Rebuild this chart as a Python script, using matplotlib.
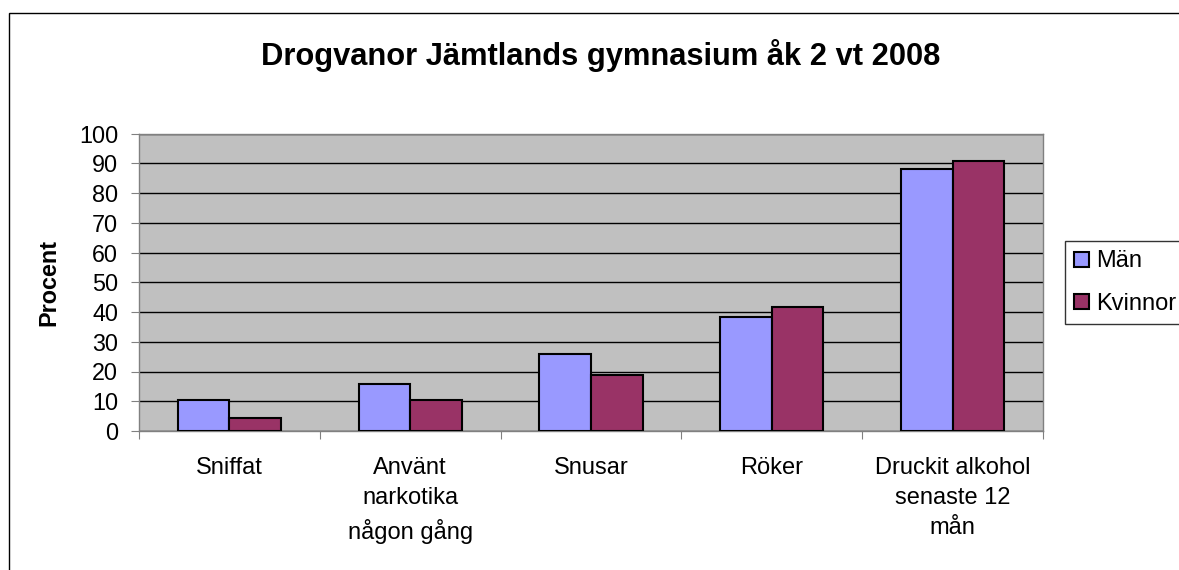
import matplotlib.pyplot as plt
import matplotlib.patches as mpatches
import numpy as np

plt.rcParams['font.family'] = ['Liberation Sans', 'DejaVu Sans']

kategorier = ["Sniffat", "Använt\nnarkotika\nnågon gång", "Snusar", "Röker",
              "Druckit alkohol\nsenaste 12\nmån"]
man = [10.3, 15.7, 25.9, 38.4, 88.2]
kvinnor = [4.4, 10.3, 18.8, 41.6, 90.8]
yticks = [0, 10, 20, 30, 40, 50, 60, 70, 80, 90, 100]

fig = plt.figure(figsize=(11.79, 5.70), dpi=100)
ax = fig.add_axes([139/1179, 1-431/570, (1043-139)/1179, (431-133.5)/570])
ax.set_facecolor("#C0C0C0")

x = np.arange(len(kategorier)) + 0.5
w = 1/3.5
ax.bar(x - w/2, man, w, color="#9999FF", edgecolor="black", lw=1.5, label="Män", zorder=3)
ax.bar(x + w/2, kvinnor, w, color="#993366", edgecolor="black", lw=1.5, label="Kvinnor", zorder=3)

ax.set_xlim(0, len(kategorier))
ax.set_ylim(0, 100)
ax.set_yticks(yticks)
ax.yaxis.grid(True, color="black", lw=1, zorder=1)
ax.set_axisbelow(True)
ax.tick_params(axis="y", labelsize=16.8, length=6, color="#808080", pad=9)

ax.set_xticks(np.arange(len(kategorier)+1))
ax.set_xticklabels([])
ax.tick_params(axis="x", which="major", length=6, color="#808080")
ax.set_xticks(x, minor=True)
ax.set_xticklabels(kategorier, minor=True, fontsize=17, linespacing=1.47)
ax.tick_params(axis="x", which="minor", length=0, pad=19)

for s in ax.spines.values():
    s.set_color("#808080")
    s.set_linewidth(1)

ax.set_ylabel("Procent", fontsize=16.8, fontweight="bold", labelpad=13)
fig.text(601/1179, 1-55/570, "Drogvanor Jämtlands gymnasium åk 2 vt 2008",
         ha="center", va="center", fontsize=22.2, fontweight="bold")

leg = fig.legend(loc="upper left", bbox_to_anchor=(1065/1179, 1-241/570),
                 bbox_transform=fig.transFigure, fontsize=17, frameon=True,
                 fancybox=False, handlelength=0.6, handleheight=0.6,
                 handletextpad=0.3, borderpad=0.4, labelspacing=0.85, borderaxespad=0)
leg.get_frame().set_edgecolor("black")
leg.get_frame().set_linewidth(1)

fig.add_artist(mpatches.Rectangle((8.5/1179, -0.1), 1.2, 1-13/570+0.1,
                                  transform=fig.transFigure, fill=False,
                                  edgecolor="black", lw=1))

fig.savefig("out.png", dpi=100)
